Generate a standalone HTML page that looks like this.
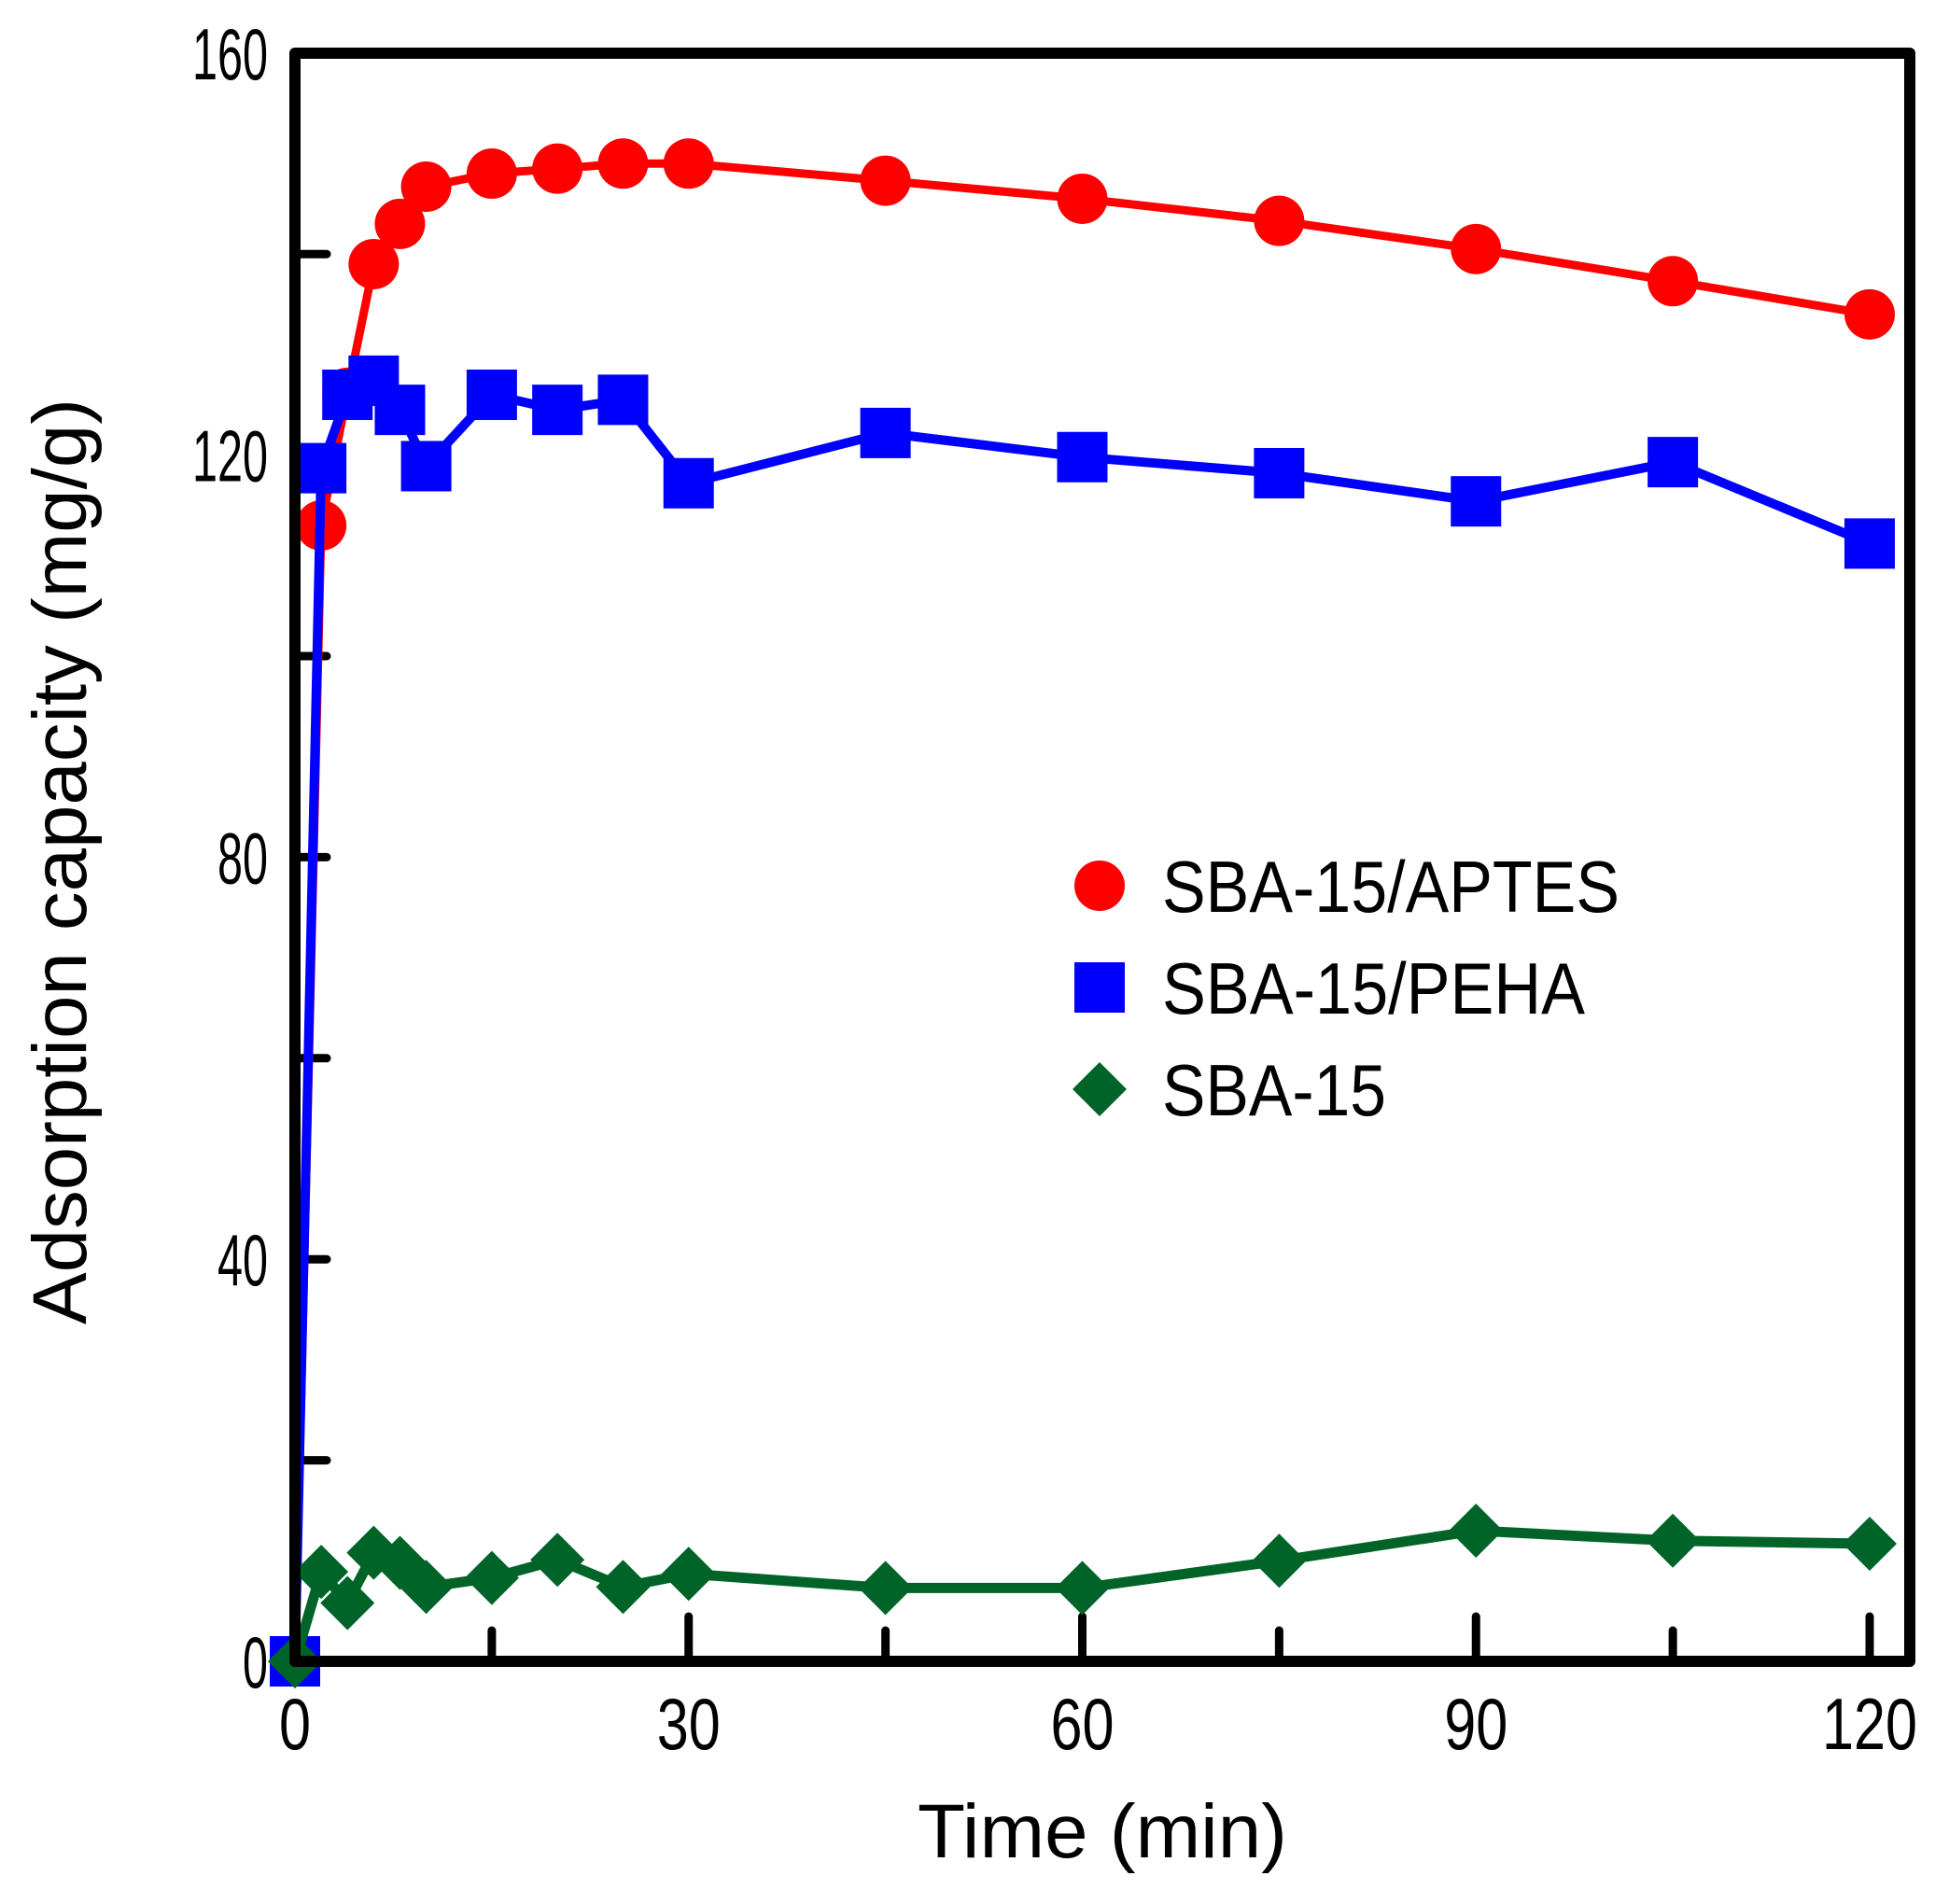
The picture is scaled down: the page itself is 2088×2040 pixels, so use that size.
<!DOCTYPE html>
<html><head><meta charset="utf-8"><style>
html,body{margin:0;padding:0;background:#fff;}
svg{display:block;}
text{font-family:"Liberation Sans",Arial,sans-serif;fill:#000;}
</style></head><body>
<svg id="s" width="2088" height="2040" viewBox="0 0 2088 2040" xmlns="http://www.w3.org/2000/svg">
<rect width="2088" height="2040" fill="#fff"/>
<g id="ticks" stroke="#000" stroke-width="9" stroke-linecap="round"></g>
<g id="series"></g>
<rect x="316" y="57" width="1730" height="1723" fill="none" stroke="#000" stroke-width="12" stroke-linejoin="round"/>
<g id="labels" font-size="78"></g>
<text x="1181" y="1990" font-size="82" text-anchor="middle" textLength="396" lengthAdjust="spacingAndGlyphs">Time (min)</text>
<text transform="translate(92,923) rotate(-90)" font-size="82" text-anchor="middle" textLength="992" lengthAdjust="spacingAndGlyphs">Adsorption capacity (mg/g)</text>
<circle cx="1178" cy="949" r="27" fill="#ff0000"/>
<rect x="1151" y="1031" width="54" height="54" fill="#0000ff"/>
<polygon points="1178,1138 1207,1167 1178,1196 1149,1167" fill="#006428"/>
<text x="1245" y="977" font-size="78" textLength="490" lengthAdjust="spacingAndGlyphs">SBA-15/APTES</text>
<text x="1245" y="1086" font-size="78" textLength="453" lengthAdjust="spacingAndGlyphs">SBA-15/PEHA</text>
<text x="1245" y="1195" font-size="78" textLength="240" lengthAdjust="spacingAndGlyphs">SBA-15</text>
</svg>
<script>
var NS="http://www.w3.org/2000/svg";
function X(t){return 316+t*(2003-316)/120;}
function Y(v){return 1780-v*10.77;}
function el(n,a,p){var e=document.createElementNS(NS,n);for(var k in a)e.setAttribute(k,a[k]);p.appendChild(e);return e;}
var tk=document.getElementById('ticks');
for(var v=20;v<160;v+=20){el('line',{x1:316,y1:Y(v),x2:350,y2:Y(v)},tk);}
[15,30,45,60,75,90,105,120].forEach(function(t){var L=(t%30==0)?48:33;el('line',{x1:X(t),y1:1780,x2:X(t),y2:1780-L},tk);});
var lb=document.getElementById('labels');
[0,40,80,120,160].forEach(function(v){var t=el('text',{x:287,y:Y(v)+28,'text-anchor':'end',textLength:String(v).length*27,lengthAdjust:'spacingAndGlyphs'},lb);t.textContent=v;});
[0,30,60,90,120].forEach(function(v){var t=el('text',{x:X(v),y:1874,'text-anchor':'middle',textLength:String(v).length*34,lengthAdjust:'spacingAndGlyphs'},lb);t.textContent=v;});
var T=[0,2,4,6,8,10,15,20,25,30,45,60,75,90,105,120];
var red=[0,113,126.2,139,143,146.7,148,148.5,149,149,147.3,145.5,143.3,140.5,137.3,134];
var blue=[0,118.7,126,127.4,124.5,118.9,126,124.5,125.5,117.2,122.2,119.8,118.2,115.4,119.3,111.2];
var green=[0,8.9,5.8,10.8,9.8,7.4,8.3,10.1,7.4,8.7,7.3,7.3,10,13,12,11.7];
var sg=document.getElementById('series');
function pts(d){return T.map(function(t,i){return X(t).toFixed(1)+','+Y(d[i]).toFixed(1);}).join(' ');}
el('polyline',{points:pts(red),fill:'none',stroke:'#ff0000','stroke-width':9},sg);
red.forEach(function(v,i){el('circle',{cx:X(T[i]),cy:Y(v),r:27,fill:'#ff0000'},sg);});
el('polyline',{points:pts(blue),fill:'none',stroke:'#0000ff','stroke-width':10},sg);
blue.forEach(function(v,i){el('rect',{x:X(T[i])-27,y:Y(v)-27,width:54,height:54,fill:'#0000ff'},sg);});
el('polyline',{points:pts(green),fill:'none',stroke:'#006428','stroke-width':11},sg);
green.forEach(function(v,i){var x=X(T[i]),y=Y(v);el('polygon',{points:x+','+(y-29)+' '+(x+29)+','+y+' '+x+','+(y+29)+' '+(x-29)+','+y,fill:'#006428'},sg);});
</script>
</body></html>
